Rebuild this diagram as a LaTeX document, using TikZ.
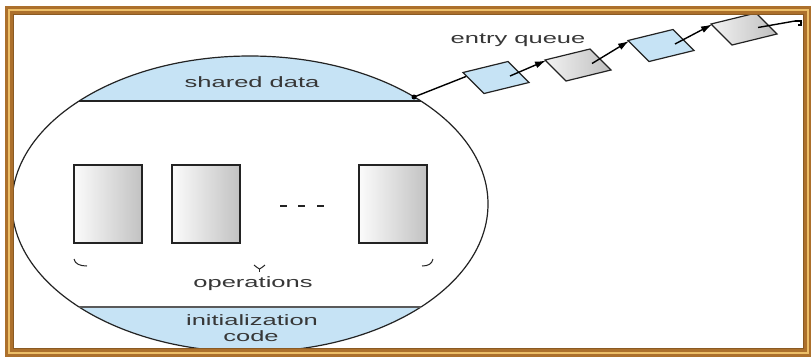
\documentclass[tikz,border=0pt]{standalone}
\usepackage{fontspec}
\usetikzlibrary{calc,arrows.meta}
\newfontfamily\lblfont[FakeStretch=1.7]{Liberation Sans}
\definecolor{frameout}{RGB}{172,112,44}
\definecolor{framein}{RGB}{236,190,104}
\definecolor{lblue}{RGB}{198,227,245}
\definecolor{ink}{RGB}{35,35,35}
\definecolor{txt}{RGB}{55,55,55}
\newcommand\qbox[2]{\draw[#1] ($(#2)+(-33,-5)$) -- ($(#2)+(12,-16)$) -- ($(#2)+(33,5)$) -- ($(#2)+(-12,16)$) -- cycle;}
\begin{document}
\begin{tikzpicture}[x=1pt,y=-1pt,
  lbl/.style={font=\lblfont\fontsize{15}{16}\selectfont, text=txt, inner sep=0pt, anchor=base},
  opbox/.style={draw=ink, line width=1.1pt, left color=gray!3, right color=gray!48, minimum width=68, minimum height=78, inner sep=0pt},
  qblue/.style={draw=ink, line width=1.2pt, fill=lblue},
  qgray/.style={draw=ink, line width=1.2pt, left color=gray!10, right color=gray!50},
  conn/.style={draw=black, line width=1.4pt},
  arr/.style={conn, -{Latex[length=11pt,width=7pt]}}]
\useasboundingbox (0,0) rectangle (811,360);
\fill[white] (0,0) rectangle (811,360);

% monitor segments
\begin{scope}
  \clip (250,204) ellipse [x radius=238, y radius=148];
  \fill[lblue] (0,0) rectangle (811,101);
  \fill[lblue] (0,307) rectangle (811,360);
\end{scope}
\draw[ink, line width=1.2pt] (250,204) ellipse [x radius=238, y radius=148];
\coordinate (sdl) at (79.1,101);
\coordinate (sdr) at (420.9,101);
\coordinate (icl) at (79.1,307);
\coordinate (icr) at (420.9,307);
\draw[ink, line width=1.6pt] (sdl) -- (sdr);
\draw[ink!75, line width=1.1pt] (icl) -- (icr);

% texts
\node[lbl] (sd) at (252,87) {shared data};
\node[lbl] (eq) at (518,43) {entry queue};
\node[lbl] (ops) at (253,287) {operations};
\node[lbl] (ini) at (252,325) {initialization};
\node[lbl] (code) at (251,341) {code};

% operation boxes
\node[opbox] (op1) at (108,204) {};
\node[opbox] (op2) at (206,204) {};
\node[opbox] (op3) at (393,204) {};
\draw[ink, line width=2.3pt] (280,206) -- (287,206) (298,206) -- (305,206) (317,206) -- (324,206);

% brace fragments
\draw[ink, line width=1pt] (74,259) .. controls (75,264) and (80,266) .. (87,266);
\draw[ink, line width=1pt] (422,266) .. controls (428,266) and (432,264) .. (433,259);
\draw[ink, line width=1pt] (254,265) .. controls (256,267) and (258,268) .. (259.5,269)
  .. controls (261,268) and (263,267) .. (265,265);
\draw[ink, line width=1pt] (259.5,269) -- (259.5,272);

% entry queue
\coordinate (jd) at (414,97);
\coordinate (q1) at (496,77.5);
\coordinate (q2) at (578,65);
\coordinate (q3) at (661,45.5);
\coordinate (q4) at (744,29);
\coordinate (tail) at (795,21);
\draw[conn] (jd) -- ($(q1)+(-30,-1)$);
\fill[black] (jd) circle (2.5);
\qbox{qblue}{q1}
\qbox{qgray}{q2}
\qbox{qblue}{q3}
\qbox{qgray}{q4}
\draw[arr] ($(q1)+(14,-1.5)$) -- ($(q2)+(-32,-4.5)$);
\draw[arr] ($(q2)+(14,-1.5)$) -- ($(q3)+(-32,-4.5)$);
\draw[arr] ($(q3)+(14,-1.5)$) -- ($(q4)+(-32,-4.5)$);
\draw[conn] ($(q4)+(14,-1.5)$) -- (tail);
\draw[black, line width=1.2pt] (tail) -- ++(6,0) -- ++(0,4) -- ++(-3,0);
\draw[black, line width=1.2pt] ($(tail)+(8,2)$) -- ++(4,-0.5);

% frame
\draw[frameout, line width=8pt] (9,10) rectangle (808,353);
\draw[framein, line width=2.2pt] (9,10) rectangle (808,353);
\draw[frameout!80!black, line width=0.8pt] (13.5,14.5) rectangle (803.5,348.5);
\end{tikzpicture}
\end{document}
